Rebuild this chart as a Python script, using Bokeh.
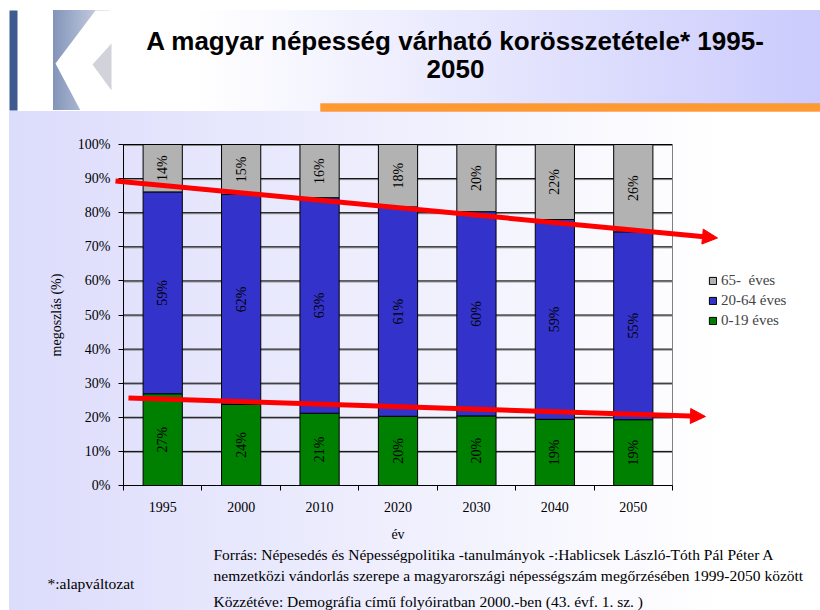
import math
from bokeh.plotting import figure
from bokeh.models import (ColumnDataSource, Range1d, FixedTicker, PrintfTickFormatter,
                          Legend, LegendItem, Label, Arrow, NormalHead, BoxAnnotation,
                          PolyAnnotation)
from bokeh.core.properties import value
from bokeh.embed import file_html
from bokeh.resources import INLINE

# ---------------- data ----------------
years = ["1995", "2000", "2010", "2020", "2030", "2040", "2050"]
age_0_19 = [26.9, 23.8, 21.2, 20.3, 20.4, 19.4, 19.3]
age_20_64 = [59.2, 61.6, 63.2, 61.4, 59.9, 58.6, 55.1]
age_65 = [13.9, 14.6, 15.6, 18.3, 19.7, 22.0, 25.6]
series_names = ["0-19 éves", "20-64 éves", "65-  éves"]
series_colors = ["#008000", "#3333CC", "#B2B2B2"]
y_ticks = [0, 10, 20, 30, 40, 50, 60, 70, 80, 90, 100]

title_line1 = "A magyar népesség várható korösszetétele* 1995-"
title_line2 = "2050"
source_lines = [
    "Forrás: Népesedés és Népességpolitika  -tanulmányok -:Hablicsek László-Tóth Pál Péter A",
    "nemzetközi vándorlás szerepe a magyarországi népességszám megőrzésében 1999-2050 között",
    "Közzétéve: Demográfia című folyóiratban 2000.-ben (43. évf. 1. sz. )",
]
footnote = "*:alapváltozat"

# ---------------- layout ----------------
W, H = 820, 610
n = len(years)
# plot area (pixels): left 123, right 672, top 144, bottom 485
PL, PR, PT, PB = 123, 672, 144, 485


def px(x):
    # pixel x -> data x
    return 0.5 + (x - PL) * n / (PR - PL)


def py(y):
    # pixel y -> data y
    return (PB - y) * 100 / (PB - PT)


xs = list(range(1, n + 1))
src = ColumnDataSource(dict(x=xs, young=age_0_19, working=age_20_64, old=age_65))

bg = ("linear-gradient(to right,#8294b9,#d6dcea) 53px 10px / 57px 100px no-repeat,"
      "linear-gradient(to right,#ffffff 12%,#cbcbfd) 110px 10px / 710px 101px no-repeat,"
      "linear-gradient(to right,#dcdcfc,#ffffff 88%) 9px 111px / 811px 499px no-repeat,"
      "#ffffff")

p = figure(width=W, height=H, output_backend="svg", toolbar_location=None,
           x_range=Range1d(px(0), px(W)), y_range=Range1d(py(H), py(0)),
           min_border=0, min_border_left=0, min_border_right=0,
           min_border_top=0, min_border_bottom=0)
p.styles = {"background": bg}
p.border_fill_color = None
p.background_fill_color = None
p.outline_line_color = None
p.xgrid.grid_line_color = None
p.ygrid.grid_line_color = None

x_lo, x_hi = 0.5, n + 0.5
# gridlines (shadow + black) and right border of the plot area
p.segment(x0=x_lo, x1=x_hi, y0=[t - 0.3 for t in y_ticks[1:]], y1=[t - 0.3 for t in y_ticks[1:]],
          line_color="#8a8a8a", line_width=1)
p.segment(x0=x_lo, x1=x_hi, y0=y_ticks, y1=y_ticks, line_color="#000000", line_width=1)
p.segment(x0=x_hi, x1=x_hi, y0=0, y1=100, line_color="#808080", line_width=1)

rs = p.vbar_stack(["young", "working", "old"], x="x", width=0.5, color=series_colors,
                  line_color="black", line_width=1, source=src)

# labels in the bars
lx, ly, lt = [], [], []
for i in range(n):
    base = 0
    for vals in (age_0_19, age_20_64, age_65):
        v = vals[i]
        lx.append(xs[i])
        ly.append(base + v / 2)
        lt.append(f"{round(v)}%")
        base += v
p.text(x="x", y="y", text="t", source=ColumnDataSource(dict(x=lx, y=ly, t=lt)),
       angle=math.pi / 2, text_align="center", text_baseline="middle",
       text_font=value("Liberation Serif"), text_font_size="14px", text_color="#000000")

# axes fixed inside the frame
p.yaxis.fixed_location = x_lo
p.yaxis.bounds = (0, 100)
p.yaxis.ticker = FixedTicker(ticks=y_ticks)
p.yaxis.formatter = PrintfTickFormatter(format="%d%%")
p.yaxis.major_tick_out = 5
p.yaxis.major_tick_in = 0
p.yaxis.minor_tick_line_color = None
p.yaxis.major_label_standoff = 8
p.yaxis.axis_label = "megoszlás (%)"
p.yaxis.axis_label_standoff = 11

p.xaxis.fixed_location = 0
p.xaxis.bounds = (x_lo, x_hi)
p.xaxis.ticker = FixedTicker(ticks=xs, minor_ticks=[k + 0.5 for k in range(n + 1)])
p.xaxis.major_label_overrides = {x: y for x, y in zip(xs, years)}
p.xaxis.major_tick_line_color = None
p.xaxis.major_tick_out = 5
p.xaxis.minor_tick_out = 5
p.xaxis.minor_tick_in = 0
p.xaxis.minor_tick_line_color = "#000000"
p.xaxis.major_label_standoff = 11
p.xaxis.axis_label = "év"
p.xaxis.axis_label_standoff = 12

for ax in (p.xaxis, p.yaxis):
    ax.axis_line_color = "#000000"
    ax.major_label_text_font = "Liberation Serif"
    ax.major_label_text_font_size = "14px"
    ax.major_label_text_color = "#000000"
    ax.axis_label_text_font = "Liberation Serif"
    ax.axis_label_text_font_size = "14px"
    ax.axis_label_text_font_style = "normal"
    ax.axis_label_text_color = "#000000"

# legend
legend = Legend(items=[LegendItem(label=series_names[2], renderers=[rs[2]]),
                       LegendItem(label=series_names[1], renderers=[rs[1]]),
                       LegendItem(label=series_names[0], renderers=[rs[0]])],
                location=(708, 281), padding=0, margin=0, spacing=3,
                glyph_width=9, glyph_height=9, label_height=16, label_standoff=4,
                label_text_font="Liberation Serif", label_text_font_size="15px",
                background_fill_alpha=0, border_line_alpha=0)
p.add_layout(legend)

# red trend arrows
p.add_layout(Arrow(x_start=px(115), y_start=py(180.5), x_end=px(717), y_end=py(237.5),
                   line_color="#ff0000", line_width=5,
                   end=NormalHead(size=15, fill_color="#ff0000", line_color="#ff0000")))
p.add_layout(Arrow(x_start=px(128), y_start=py(397.5), x_end=px(705), y_end=py(416),
                   line_color="#ff0000", line_width=5,
                   end=NormalHead(size=15, fill_color="#ff0000", line_color="#ff0000")))

# header decorations
p.add_layout(BoxAnnotation(left=px(9), right=px(17), top=py(10), bottom=py(110),
                           fill_color="#3d5b8e", fill_alpha=1, line_color=None))
p.add_layout(PolyAnnotation(xs=[px(95), px(111), px(111), px(80), px(55)],
                            ys=[py(10), py(10), py(110), py(110), py(63)],
                            fill_color="#ffffff", fill_alpha=1, line_color=None))
p.add_layout(PolyAnnotation(xs=[px(111), px(92), px(111)], ys=[py(43), py(64), py(90)],
                            fill_color="#d2d2da", fill_alpha=1, line_color=None))
p.add_layout(BoxAnnotation(left=px(320), right=px(830), top=py(103), bottom=py(111),
                           fill_color="#ff9a33", fill_alpha=1, line_color="#ff7f1a", line_width=1))

p.add_layout(Label(x=px(455), y=py(40), text=title_line1, text_align="center",
                   text_baseline="middle", text_font="Liberation Sans",
                   text_font_style="bold", text_font_size="26px", text_color="#000000"))
p.add_layout(Label(x=px(455), y=py(68), text=title_line2, text_align="center",
                   text_baseline="middle", text_font="Liberation Sans",
                   text_font_style="bold", text_font_size="26px", text_color="#000000"))

# footer texts
for txt, ry in zip(source_lines, [554, 575, 601]):
    p.add_layout(Label(x=px(213), y=py(ry), text=txt, text_align="left",
                       text_baseline="middle", text_font="Liberation Serif",
                       text_font_size="15.5px", text_color="#000000"))
p.add_layout(Label(x=px(47), y=py(583), text=footnote, text_align="left",
                   text_baseline="middle", text_font="Liberation Serif",
                   text_font_size="15.5px", text_color="#000000"))

open("out.html", "w").write(file_html(p, INLINE))
